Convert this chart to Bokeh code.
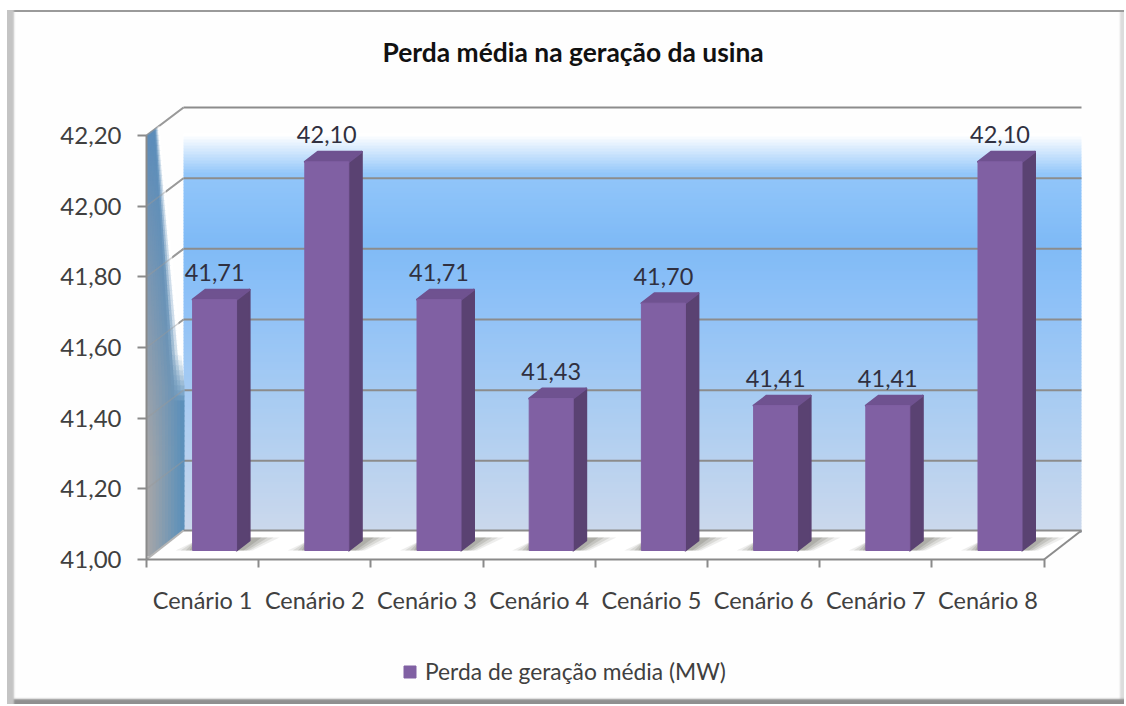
from bokeh.plotting import figure
from bokeh.models import FixedTicker, Legend, LegendItem, Title
from bokeh.embed import file_html
from bokeh.resources import INLINE
from bokeh.core.properties import value

categories = ["Cenário 1", "Cenário 2", "Cenário 3", "Cenário 4", "Cenário 5", "Cenário 6", "Cenário 7", "Cenário 8"]
perda = [41.71, 42.10, 41.71, 41.43, 41.70, 41.41, 41.41, 42.10]
y_ticks = [41.0, 41.2, 41.4, 41.6, 41.8, 42.0, 42.2]
y_tick_labels = ["41,00", "41,20", "41,40", "41,60", "41,80", "42,00", "42,20"]
title_text = "Perda média na geração da usina"
legend_text = "Perda de geração média (MW)"

FONT = "Lato"
W, H = 1126, 706
PX_X, PX_Y = 112.2, 353.3          # pixels per category / per unit
LEFT, BOTTOM, TOP = 146, 559, 72   # page pixels: axis x, axis y, frame top

def X(px):  # page px -> data x
    return 0.5 + (px - LEFT) / PX_X
def Y(py):  # page py -> data y
    return 41.0 + (BOTTOM - py) / PX_Y
def lerp(a, b, t):
    return a + (b - a) * t
def mix(c1, c2, t):
    t = max(0.0, min(1.0, t))
    return tuple(lerp(a, b, t) for a, b in zip(c1, c2))
def hexc(c):
    return "#%02x%02x%02x" % tuple(round(v) for v in c)

p = figure(width=W, height=H, frame_width=W, frame_height=H - TOP,
           x_range=(X(0), X(W)), y_range=(Y(H), Y(TOP)),
           output_backend="svg", toolbar_location=None,
           min_border_left=0, min_border_right=0, min_border_top=TOP,
           min_border_bottom=0, outline_line_color=None,
           background_fill_alpha=0, border_fill_alpha=0,
           styles={"background": "#fefefe",
                   "box-shadow": "inset 7px 0 0 0 #fff, inset 0 10px 0 0 #fff, inset -2px 0 0 0 #fff, inset 0 -2px 0 0 #fff, "
                                 "inset 14px 0 2px 0 #c4c4c4, inset 0 -7px 2px 0 #8f8f8f, "
                                 "inset 0 12px 0 0 #9a9a9a, inset -6px 0 2px 0 #dcdcdc"})
p.grid.visible = False

# ---- axes
ax = p.xaxis[0]
ax.fixed_location = 41.0
ax.bounds = (0.5, 8.5)
ax.ticker = FixedTicker(ticks=list(range(1, 9)), minor_ticks=[i + 0.5 for i in range(0, 9)])
ax.major_label_overrides = {i + 1: c for i, c in enumerate(categories)}
ax.major_tick_line_color = None
ax.minor_tick_out = 8
ax.minor_tick_in = 0
ax.minor_tick_line_color = "#8a8a8a"
ax.minor_tick_line_width = 2
ax.axis_line_color = "#8a8a8a"
ax.axis_line_width = 2
ax.major_label_standoff = 18
ax.major_label_text_font = FONT
ax.major_label_text_font_size = "23.5px"
ax.major_label_text_color = "#404040"

ay = p.yaxis[0]
ay.fixed_location = 0.5
ay.bounds = (41.0, 42.2)
ay.ticker = FixedTicker(ticks=y_ticks)
ay.major_label_overrides = dict(zip(y_ticks, y_tick_labels))
ay.major_tick_out = 9
ay.major_tick_in = 0
ay.minor_tick_line_color = None
ay.major_tick_line_color = "#8a8a8a"
ay.major_tick_line_width = 2
ay.axis_line_color = "#8a8a8a"
ay.axis_line_width = 2
ay.major_label_standoff = 16
ay.major_label_text_font = FONT
ay.major_label_text_font_size = "24px"
ay.major_label_text_color = "#404040"

# ---- back wall: vertical gradient in thin strips
WX0, WX1, DEPTH_X, DEPTH_Y = 183, 1081, 37, 28
stops = [(133, (255, 255, 255)), (172, (146, 198, 250)), (240, (127, 186, 246)),
         (300, (142, 193, 247)), (420, (174, 206, 241)), (530, (203, 216, 236))]
sy, colors = [], []
for py in range(133, 530, 3):
    for (a, ca), (b, cb) in zip(stops, stops[1:]):
        if a <= py <= b:
            colors.append(hexc(mix(ca, cb, (py - a) / (b - a))))
            sy.append(py)
            break
p.quad(left=X(WX0), right=X(WX1), top=[Y(v) for v in sy], bottom=[Y(v + 3.6) for v in sy],
       fill_color=colors, line_color=None)

back_y = [Y(BOTTOM - (t - 41) * PX_Y - DEPTH_Y) for t in y_ticks]
# ---- grid on back wall
p.segment(x0=[X(WX0)] * len(y_ticks), x1=[X(WX1)] * len(y_ticks), y0=back_y, y1=back_y,
          line_color="#8c8c8c", line_width=2)
p.segment(x0=[0.5] * len(y_ticks), x1=[X(WX0)] * len(y_ticks), y0=y_ticks, y1=back_y,
          line_color="#9a9a9a", line_width=2)

# ---- left wall wedge, graded cells
L0, L1 = (92, 140, 186), (166, 166, 168)
R0, R1 = (92, 142, 186), (92, 144, 186)
def edge(py):
    return min(WX0, 159 + (py - 135) * 24 / 250)
def diag(px):
    return 135 - (px - LEFT) * 28 / 37
wx, wy, wc = [], [], []
n = 12
for py in range(120, 555, 5):
    t = max(0, min(1, (py - 130) / 330))
    low = min(py + 6, BOTTOM)
    for i in range(n):
        u = i / (n - 1)
        a0, a1 = LEFT + (edge(py) - LEFT) * i / n, LEFT + (edge(py) - LEFT) * (i + 1) / n + 1
        b0, b1 = LEFT + (edge(low) - LEFT) * i / n, LEFT + (edge(low) - LEFT) * (i + 1) / n + 1
        if low < diag(a1):
            continue
        shade = mix(mix(L0, R0, u), mix(L1, R1, u), t)
        fade = max(0.0, (u - 0.7) / 0.3) * (1 - min(1, max(0, (py - 350) / 50)))
        wc.append(hexc(mix(shade, (255, 255, 255), fade)))
        wx.append([X(a0), X(a1), X(b1), X(b0)])
        wy.append([Y(max(py, diag(a0))), Y(max(py, diag(a1))), Y(low), Y(low)])
p.patches(xs=wx, ys=wy, fill_color=wc, line_color=None)
p.segment(x0=[0.5] * len(y_ticks), x1=[X(WX0)] * len(y_ticks), y0=y_ticks, y1=back_y,
          line_color="#9a9a9a", line_width=1.5, line_alpha=0.45)

# ---- floor
p.patch(x=[0.5, X(WX0), X(WX1), 8.5], y=[41.0, Y(BOTTOM - 29), Y(BOTTOM - 29), 41.0], fill_color="#ffffff", line_color=None)
p.segment(x0=[X(WX0), 0.5, 8.5], x1=[X(WX1), X(WX0), X(WX1)],
          y0=[Y(BOTTOM - 29), 41.0, 41.0], y1=[Y(BOTTOM - 29), Y(BOTTOM - 29), Y(BOTTOM - 29)],
          line_color=["#8c8c8c", "#b5b5b5", "#8c8c8c"], line_width=2)

# ---- bars in depth
BAR_DX, BASE_DY, BAR_W, SIDE_X, SIDE_Y = 12, 9, 44, 13, 10
cx = [i + 1 + BAR_DX / PX_X for i in range(len(perda))]
hw = BAR_W / 2 / PX_X
sdx, sdy = SIDE_X / PX_X, SIDE_Y / PX_Y
off = BASE_DY / PX_Y
base_y = 41.0 + off

# shadows on the floor
for (a, b, c, d, al) in [(-17, 16, 10, 30, .10), (-12, 13, 8, 24, .14), (-7, 10, 6, 18, .17), (-3, 7, 4, 12, .2)]:
    p.patches(xs=[[x - hw + a / PX_X, x + hw + b / PX_X, x + hw + sdx + d / PX_X, x - hw + c / PX_X] for x in cx],
              ys=[[base_y, base_y, base_y + 13 / PX_Y, base_y + 13 / PX_Y] for _ in cx],
              fill_color="#5a5a50", fill_alpha=al, line_color=None)

tops = [v + off for v in perda]
p.patches(xs=[[x + hw, x + hw + sdx, x + hw + sdx, x + hw] for x in cx],
          ys=[[base_y, base_y + sdy, t + sdy, t] for t in tops],
          fill_color="#5a4272", line_color="#5a4272", line_join="round", line_width=2)
p.patches(xs=[[x - hw, x + hw, x + hw + sdx, x - hw + sdx] for x in cx],
          ys=[[t, t, t + sdy, t + sdy] for t in tops],
          fill_color="#6f5290", line_color="#6f5290", line_join="round", line_width=2)
bars = p.vbar(x=cx, width=2 * hw, bottom=base_y, top=tops, fill_color="#8060a3", line_color="#8060a3")

p.text(x=cx, y=perda, text=[f"{v:.2f}".replace(".", ",") for v in perda],
       y_offset=-36, text_align="center", text_baseline="middle",
       text_font=value(FONT), text_font_size="23.5px", text_color="#303040")

# ---- legend
legend = Legend(items=[LegendItem(label=legend_text, renderers=[bars])], location=(402, 21),
                orientation="horizontal",
                background_fill_alpha=0, border_line_color=None, glyph_width=15, glyph_height=15,
                label_text_font=FONT, label_text_font_size="22.8px", label_text_color="#404040",
                margin=0, padding=0, label_standoff=8)
p.add_layout(legend)

# ---- title
t = Title(text=title_text, text_font=FONT, text_font_size="26.4px", text_font_style="bold",
          text_color="#111111", align="left", offset=382)
p.add_layout(t, "above")

open("out.html", "w").write(file_html(p, INLINE))
